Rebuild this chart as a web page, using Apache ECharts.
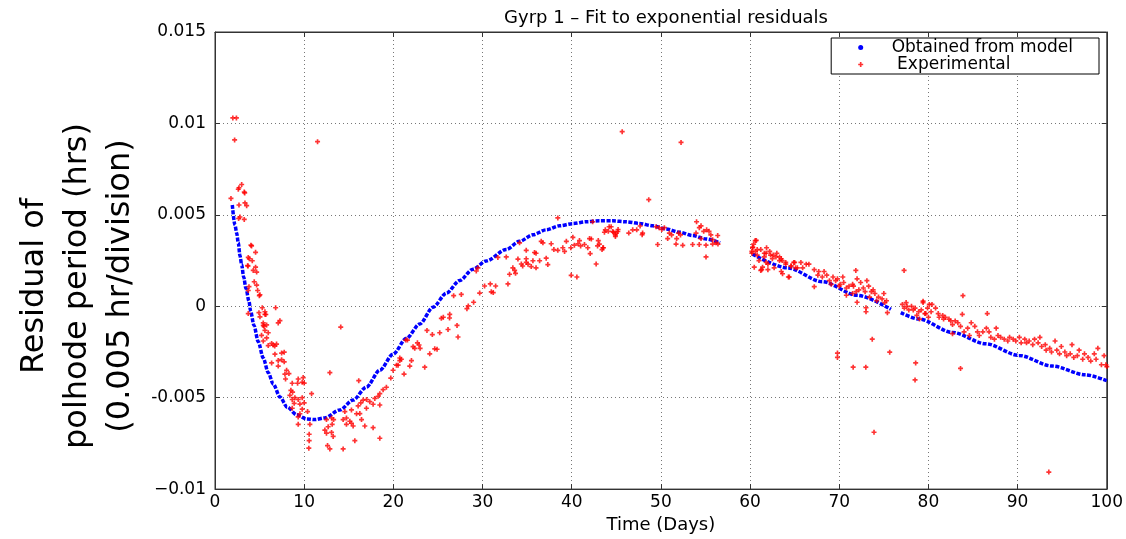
<!DOCTYPE html>
<html>
<head>
<meta charset="utf-8">
<style>
  html, body { margin: 0; padding: 0; background: #fff; }
  #chart { width: 1126px; height: 539px; }
</style>
<script src="https://cdn.jsdelivr.net/npm/echarts@6/dist/echarts.min.js"></script>
</head>
<body>
<div id="chart"></div>
<script>
// model curve in three pieces (gaps near day 58 and day 76)
var modelSeg1 = [
    [1.94, 0.00554], [2.24, 0.00444], [2.43, 0.0040], [2.61, 0.00347], [2.80, 0.00276],
    [2.99, 0.00228], [3.21, 0.0016], [3.47, 0.00098], [3.81, 0.00028], [3.99, -0.00026],
    [4.37, -0.00105], [4.85, -0.00194], [5.41, -0.00283], [5.97, -0.00363], [6.53, -0.00425],
    [7.28, -0.00496], [8.10, -0.00552], [9.15, -0.00593], [10.27, -0.00616], [11.2, -0.0062],
    [12.3, -0.00611], [14.0, -0.00567], [15.49, -0.00513], [16.98, -0.00442], [18.48, -0.0035],
    [19.97, -0.00262], [21.46, -0.00175], [22.96, -0.00097], [24.45, -0.00005], [25.95, 0.00072],
    [27.44, 0.00141], [28.93, 0.00203], [30.43, 0.00248], [32.67, 0.00311], [34.15, 0.00355],
    [35.65, 0.00391], [37.14, 0.00418], [38.63, 0.0044], [40.13, 0.00452], [41.62, 0.00462],
    [43.11, 0.00467], [44.6, 0.00467], [46.1, 0.00462], [47.59, 0.00453], [49.08, 0.0044],
    [50.58, 0.00423], [52.07, 0.00405], [53.56, 0.00387], [55.06, 0.00368], [56.63, 0.00347]
];
var modelSeg2 = [
    [60.28, 0.00285], [64.2, 0.0021], [68.1, 0.00134], [72.0, 0.0006], [75.8, -0.00017]
];
var modelSeg3 = [
    [76.9, -0.00035], [78.95, -0.0007], [82.68, -0.00143], [86.42, -0.00205], [90.15, -0.00269],
    [93.88, -0.00327], [97.6, -0.00375], [100, -0.00407]
];

// experimental residuals
var expPoints = [
    [2.0, 0.0103], [2.4, 0.0103], [2.2, 0.0091], [11.5, 0.0090],
    [2.99, 0.00666], [2.69, 0.00648], [2.61, 0.0064], [3.28, 0.00625], [3.33, 0.0062],
    [1.79, 0.0059], [2.69, 0.00554], [3.36, 0.00565], [3.55, 0.0055], [2.8, 0.00488],
    [2.65, 0.0048], [3.28, 0.00475], [4.03, 0.00334], [4.1, 0.0033], [4.55, 0.00295],
    [3.73, 0.00267], [3.85, 0.0026], [4.18, 0.00249], [3.66, 0.00222], [3.7, 0.0022],
    [4.55, 0.00214], [4.29, 0.00196], [4.67, 0.00187], [4.4, 0.00134], [4.67, 0.00116],
    [3.81, 0.00107], [4.78, 0.00086], [3.73, 0.00086], [5.04, 0.00063], [4.97, 0.00058],
    [5.3, -0.00008], [6.8, -0.00008], [4.93, -0.00035], [5.6, -0.00044], [5.7, -0.00045],
    [5.04, -0.00058], [7.28, -0.00079], [7.09, -0.00091], [5.41, -0.00091], [5.79, -0.00102],
    [5.5, -0.0011], [14.1, -0.00114], [3.73, -0.0004], [5.6, -0.0003],
    [5.41, -0.00105], [5.6, -0.00132], [5.97, -0.00145], [5.22, -0.00159], [5.79, -0.00173],
    [5.41, -0.0019], [6.35, -0.00203], [6.53, -0.00212], [6.9, -0.00207], [5.97, -0.00215],
    [6.7, -0.00218], [7.47, -0.00256], [7.76, -0.00251], [6.72, -0.00262], [7.09, -0.00297],
    [7.47, -0.00292], [7.76, -0.00304], [6.35, -0.0031], [7.09, -0.00327], [8.03, -0.0035],
    [7.84, -0.00371], [8.29, -0.00368], [7.91, -0.00398], [9.89, -0.0039], [9.33, -0.00398],
    [8.66, -0.00421], [9.26, -0.00421], [9.78, -0.00416], [10.0, -0.0042], [12.88, -0.00363],
    [8.51, -0.0046], [8.7, -0.0047], [8.4, -0.00487], [8.96, -0.005], [8.66, -0.0051],
    [9.33, -0.0051], [9.78, -0.005], [10.83, -0.00478], [8.88, -0.00531], [9.52, -0.00535],
    [10.0, -0.00528], [8.66, -0.00558], [9.78, -0.00563], [10.38, -0.00576], [9.33, -0.00605],
    [9.52, -0.00588], [9.33, -0.00646], [10.64, -0.00646], [10.56, -0.007], [10.56, -0.00735],
    [10.52, -0.00776], [12.5, -0.0062], [13.07, -0.00611], [13.3, -0.0062], [13.14, -0.00646],
    [12.69, -0.00659], [12.32, -0.00677], [12.5, -0.00694], [13.07, -0.0069], [13.25, -0.00712],
    [14.37, -0.0062], [14.74, -0.00611], [15.12, -0.00629], [14.74, -0.00646], [15.3, -0.0064],
    [15.49, -0.00655], [15.3, -0.00567], [14.56, -0.00576], [15.87, -0.00588], [16.24, -0.00587],
    [16.43, -0.0062], [16.05, -0.00545], [16.35, -0.00528], [16.98, -0.00558], [16.61, -0.00513],
    [17.0, -0.0051], [17.36, -0.00522], [17.73, -0.00536], [17.92, -0.00504], [18.29, -0.00492],
    [18.48, -0.00478], [18.85, -0.00456], [19.22, -0.00443], [18.48, -0.0054], [16.8, -0.00655],
    [17.73, -0.00664], [15.68, -0.00735], [14.37, -0.0078], [12.88, -0.0078], [12.62, -0.00762],
    [18.48, -0.00722], [16.12, -0.00407], [19.71, -0.00393], [19.97, -0.0035], [20.35, -0.00322],
    [21.2, -0.00371], [20.72, -0.00297], [20.9, -0.0029], [21.58, -0.00185],
    [20.72, -0.00283], [20.53, -0.00322], [21.84, -0.00327], [22.03, -0.00297], [23.52, -0.00333],
    [22.21, -0.00221], [22.4, -0.0023], [22.88, -0.00212], [23.0, -0.0023], [22.7, -0.002],
    [21.39, -0.00185], [24.08, -0.0026], [24.64, -0.00233], [24.9, -0.00235], [23.77, -0.00132],
    [24.37, -0.00155], [25.2, -0.00145], [26.13, -0.00127], [27.14, -0.00105], [27.25, -0.00168],
    [25.38, -0.00066], [25.6, -0.0006], [26.32, -0.00044], [26.3, -0.00064], [28.25, -0.00013],
    [28.4, 0.00002], [29.0, 0.00022], [26.76, 0.00058], [27.62, 0.00065], [29.68, 0.00072],
    [30.23, 0.00111], [30.87, 0.00122], [31.47, 0.00111], [30.98, 0.00079], [31.2, 0.00075],
    [32.85, 0.00122], [29.3, 0.00193], [29.48, 0.0021], [31.72, 0.00267], [32.66, 0.0027],
    [33.03, 0.00175], [33.6, 0.00196], [33.7, 0.0018], [33.4, 0.0021], [33.97, 0.00258],
    [34.35, 0.00231], [34.5, 0.0022], [34.9, 0.0024], [35.1, 0.0023], [35.46, 0.00217],
    [35.65, 0.00249], [36.0, 0.0021], [36.4, 0.00249], [34.9, 0.00306], [35.83, 0.00294],
    [36.0, 0.0029], [37.14, 0.00263], [37.32, 0.00228], [36.77, 0.00347], [37.7, 0.00342],
    [38.44, 0.00306], [38.0, 0.0031], [39.0, 0.0032], [39.2, 0.003], [39.4, 0.00355],
    [40.13, 0.00377], [39.9, 0.0032], [40.3, 0.00334], [40.7, 0.00342], [40.87, 0.00359],
    [41.0, 0.0033], [41.43, 0.00338], [41.8, 0.0032], [42.0, 0.0037], [42.2, 0.00368],
    [42.98, 0.00359], [43.1, 0.0034], [42.9, 0.0033], [42.07, 0.00288], [42.74, 0.00231],
    [39.94, 0.00169], [40.58, 0.0016], [43.4, 0.0031], [43.5, 0.0032], [44.2, 0.00435],
    [44.6, 0.00409], [44.98, 0.004], [45.2, 0.0042], [44.9, 0.0039], [38.44, 0.00483],
    [42.35, 0.00462], [36.58, 0.00355], [34.15, 0.00347], [34.9, 0.0026],
    [45.66, 0.00955], [52.26, 0.00896], [48.64, 0.00583],
    [43.55, 0.0032], [43.77, 0.00418], [44.1, 0.0041], [44.42, 0.00435], [44.68, 0.00405],
    [45.17, 0.00409], [44.9, 0.00382], [43.67, 0.00405], [46.4, 0.004], [46.84, 0.00418],
    [47.29, 0.00418], [47.9, 0.00391], [47.95, 0.004], [47.67, 0.00439], [49.46, 0.00435],
    [49.8, 0.0043], [50.39, 0.0043], [50.1, 0.0042], [49.64, 0.00338], [50.95, 0.004],
    [51.2, 0.0039], [50.76, 0.0037], [51.77, 0.0037], [51.99, 0.004], [52.2, 0.0039],
    [52.45, 0.00333], [54.0, 0.00462], [54.31, 0.0043], [54.5, 0.0044], [54.8, 0.0041],
    [53.94, 0.004], [53.56, 0.00338], [54.3, 0.00338], [54.5, 0.0037], [55.13, 0.00418],
    [55.4, 0.0041], [55.6, 0.0039], [55.06, 0.00334], [55.06, 0.0027], [55.8, 0.00364],
    [56.18, 0.00347], [56.37, 0.00387], [56.4, 0.0034], [55.8, 0.0034], [51.7, 0.0034],
    [60.58, 0.00359], [60.4, 0.0034], [60.28, 0.0032], [60.6, 0.0030], [60.2, 0.0029],
    [60.8, 0.0028], [61.0, 0.0025], [60.47, 0.00214], [61.2, 0.00196], [61.8, 0.0024],
    [61.8, 0.0029], [62.3, 0.0028], [62.5, 0.0026], [62.9, 0.0027], [63.3, 0.0025],
    [63.5, 0.0026], [63.64, 0.00178], [64.3, 0.0016], [64.0, 0.0023], [64.6, 0.0022],
    [65.1, 0.0021], [64.9, 0.0024], [62.0, 0.0023], [61.6, 0.0027],
    [60.7, 0.0036], [60.3, 0.00323], [60.2, 0.003], [60.8, 0.0031], [61.2, 0.0031],
    [61.85, 0.0032], [61.6, 0.0029], [62.2, 0.003], [62.6, 0.0028], [63.0, 0.0029],
    [63.3, 0.0027], [61.4, 0.00214], [61.3, 0.0020], [62.0, 0.002], [62.7, 0.0021],
    [63.6, 0.0025], [64.0, 0.0024], [63.5, 0.0019], [64.4, 0.0016], [64.6, 0.0022],
    [65.0, 0.0024], [65.7, 0.0024], [66.3, 0.0023], [66.6, 0.0023], [65.3, 0.0021],
    [65.9, 0.0021], [67.2, 0.0020], [67.7, 0.0019], [67.2, 0.00107], [67.6, 0.0017],
    [68.1, 0.0016], [68.3, 0.0019], [68.6, 0.0017], [68.9, 0.0014], [69.3, 0.0016],
    [69.1, 0.0012], [69.6, 0.0014], [69.8, 0.0015], [70.4, 0.0016], [70.1, 0.0012],
    [70.5, 0.0013], [70.0, 0.0011], [70.8, 0.001], [71.1, 0.0011], [71.5, 0.0012],
    [71.86, 0.00196], [71.6, 0.0011], [71.9, 0.0008], [72.0, 0.0015], [72.4, 0.0013],
    [72.2, 0.0009], [72.7, 0.001], [72.9, 0.0008], [73.1, 0.0014], [73.3, 0.0011],
    [73.6, 0.0008], [73.4, 0.0005], [73.8, 0.0009], [74.0, 0.0007], [74.4, 0.0005],
    [74.2, 0.0003], [74.8, 0.0004], [75.0, 0.0007], [75.1, 0.0002], [75.3, 0.0003],
    [75.4, -0.00035], [72.0, 0.00022], [73.0, -0.00008], [73.0, -0.0003], [70.8, 0.0006],
    [71.5, 0.0007], [73.7, -0.0018], [69.8, -0.00256], [69.8, -0.0028], [71.56, -0.00333],
    [72.98, -0.00333], [75.66, -0.00251], [73.9, -0.00689],
    [77.27, 0.00196], [77.08, 0.0001], [77.5, 0.0002], [77.3, -0.0001], [77.6, 0.0],
    [77.8, -0.0002], [78.1, 0.0], [78.3, -0.0002], [78.5, -0.0001], [78.9, -0.0003],
    [78.7, -0.0005], [79.0, -0.0007], [79.2, -0.0002], [79.4, 0.0002], [79.6, -0.0004],
    [79.9, -0.0001], [80.1, 0.0001], [80.3, -0.0003], [78.57, -0.0031], [78.5, -0.00403],
    [79.4, 0.00028], [80.4, 0.0001], [79.7, -0.0004], [80.0, -0.0006], [80.8, -0.0001],
    [81.1, -0.0004], [81.2, -0.0006], [81.6, -0.0005], [81.9, -0.0006], [82.3, -0.0007],
    [81.7, -0.0007], [82.5, -0.0008], [82.7, -0.001], [83.0, -0.0008], [83.3, -0.0009],
    [83.6, -0.0011], [83.8, -0.00044], [83.87, 0.00058], [82.7, -0.0015], [84.0, -0.0014],
    [84.4, -0.0012], [84.8, -0.0009], [84.6, -0.0016], [85.2, -0.0011], [85.5, -0.0014],
    [85.7, -0.0016], [86.1, -0.0014], [86.5, -0.0012], [86.6, -0.0004], [86.8, -0.0014],
    [87.0, -0.0017], [87.4, -0.0018], [87.6, -0.0012], [87.8, -0.0016], [88.1, -0.0017],
    [88.5, -0.0018], [88.9, -0.0019], [89.1, -0.0017], [89.5, -0.0018], [89.8, -0.0019],
    [90.2, -0.0017], [90.4, -0.002], [90.8, -0.0018], [91.0, -0.002], [91.3, -0.0019],
    [91.7, -0.0021], [91.9, -0.0018], [92.3, -0.002], [92.5, -0.0017], [92.7, -0.0022],
    [93.1, -0.0021], [93.2, -0.0024], [93.6, -0.0023], [93.8, -0.0025], [94.2, -0.0019],
    [94.4, -0.0024], [94.7, -0.0026], [94.9, -0.0022], [95.3, -0.0025], [95.5, -0.0027],
    [95.9, -0.0026], [96.1, -0.0021], [96.3, -0.0028], [96.7, -0.0027], [96.9, -0.0024],
    [97.3, -0.0029], [97.5, -0.0026], [97.9, -0.0028], [98.2, -0.003], [98.6, -0.0026],
    [98.8, -0.0029], [99.0, -0.0023], [99.4, -0.0032], [99.7, -0.0027], [99.9, -0.0032],
    [100.0, -0.0033], [83.6, -0.0034], [93.5, -0.00907]
];

var xTicks = [0, 10, 20, 30, 40, 50, 60, 70, 80, 90, 100];
var yTicks = [-0.01, -0.005, 0, 0.005, 0.01, 0.015];

var FONT = 'DejaVu Sans';
var PLUS = 'path://M2,0h2v2h2v2h-2v2h-2v-2h-2v-2h2z';

var modelData = modelSeg1.concat([[58.3, '-']], modelSeg2, [[76.4, '-']], modelSeg3);

var fmtY = function(v) {
    if (Math.abs(v) < 1e-9) return '0';
    var s = String(+v.toFixed(3));
    if (v < -0.0099) s = '\u2212' + s.slice(1);
    return s;
};

var gridLine = {show: true, lineStyle: {color: '#777', width: 1, type: [1, 3]}};
var axLine = {show: true, onZero: false, lineStyle: {color: '#333', width: 1}};
var tick = {show: true, inside: true, length: 5, lineStyle: {color: '#333'}};

var option = {
    animation: false,
    backgroundColor: '#fff',
    title: {
        text: 'Gyrp 1 \u2013 Fit to exponential residuals',
        left: 661,
        textAlign: 'center',
        top: 4,
        textStyle: {fontFamily: FONT, fontSize: 18, fontWeight: 'normal', color: '#000'}
    },
    legend: {
        orient: 'vertical',
        right: 27,
        top: 38,
        padding: [1, 26, 1, 27],
        itemGap: 0,
        itemWidth: 52,
        itemHeight: 5,
        borderColor: '#000',
        borderWidth: 1,
        backgroundColor: '#fff',
        textStyle: {fontFamily: FONT, fontSize: 17, color: '#000', lineHeight: 17},
        data: [
            {name: 'Obtained from model', icon: 'circle', itemStyle: {color: '#0000ff'}},
            {name: ' Experimental', icon: PLUS, itemStyle: {color: '#ff0000'}}
        ]
    },
    grid: {left: 215, right: 18, top: 32, bottom: 38, show: true, borderColor: '#333', borderWidth: 1},
    xAxis: [{
        type: 'value',
        min: xTicks[0],
        max: xTicks[xTicks.length - 1],
        interval: 10,
        name: 'Time (Days)',
        nameLocation: 'middle',
        nameGap: 23,
        nameTextStyle: {fontFamily: FONT, fontSize: 18, color: '#000'},
        axisLine: axLine,
        axisTick: tick,
        axisLabel: {fontFamily: FONT, fontSize: 17, color: '#000', margin: 5},
        splitLine: gridLine
    }, {
        type: 'value',
        position: 'top',
        min: xTicks[0],
        max: xTicks[xTicks.length - 1],
        interval: 10,
        axisLine: axLine,
        axisTick: tick,
        axisLabel: {show: false},
        splitLine: {show: false}
    }],
    yAxis: [{
        type: 'value',
        min: yTicks[0],
        max: yTicks[yTicks.length - 1],
        interval: 0.005,
        axisLine: axLine,
        axisTick: tick,
        axisLabel: {fontFamily: FONT, fontSize: 17, color: '#000', margin: 9, formatter: fmtY},
        splitLine: gridLine
    }, {
        type: 'value',
        position: 'right',
        min: yTicks[0],
        max: yTicks[yTicks.length - 1],
        interval: 0.005,
        axisLine: axLine,
        axisTick: tick,
        axisLabel: {show: false},
        splitLine: {show: false}
    }],
    graphic: [{
        type: 'text',
        x: 78,
        y: 286,
        rotation: Math.PI / 2,
        style: {
            text: 'Residual of\npolhode period (hrs)\n(0.005 hr/division)',
            font: '32px "DejaVu Sans"',
            fill: '#000',
            align: 'center',
            verticalAlign: 'middle',
            lineHeight: 43
        }
    }],
    series: [{
        name: 'Obtained from model',
        type: 'line',
        data: modelData,
        smooth: 0.3,
        smoothMonotone: 'x',
        showSymbol: false,
        symbol: 'none',
        connectNulls: false,
        lineStyle: {color: '#0000ff', width: 3.5, type: [4, 1.5]},
        itemStyle: {color: '#0000ff'},
        z: 2
    }, {
        name: ' Experimental',
        type: 'scatter',
        data: expPoints,
        symbol: PLUS,
        symbolSize: 5,
        itemStyle: {color: '#ff0000'},
        z: 3
    }]
};

var chart = echarts.init(document.getElementById('chart'), null, {renderer: 'canvas'});
chart.setOption(option);
</script>
</body>
</html>
